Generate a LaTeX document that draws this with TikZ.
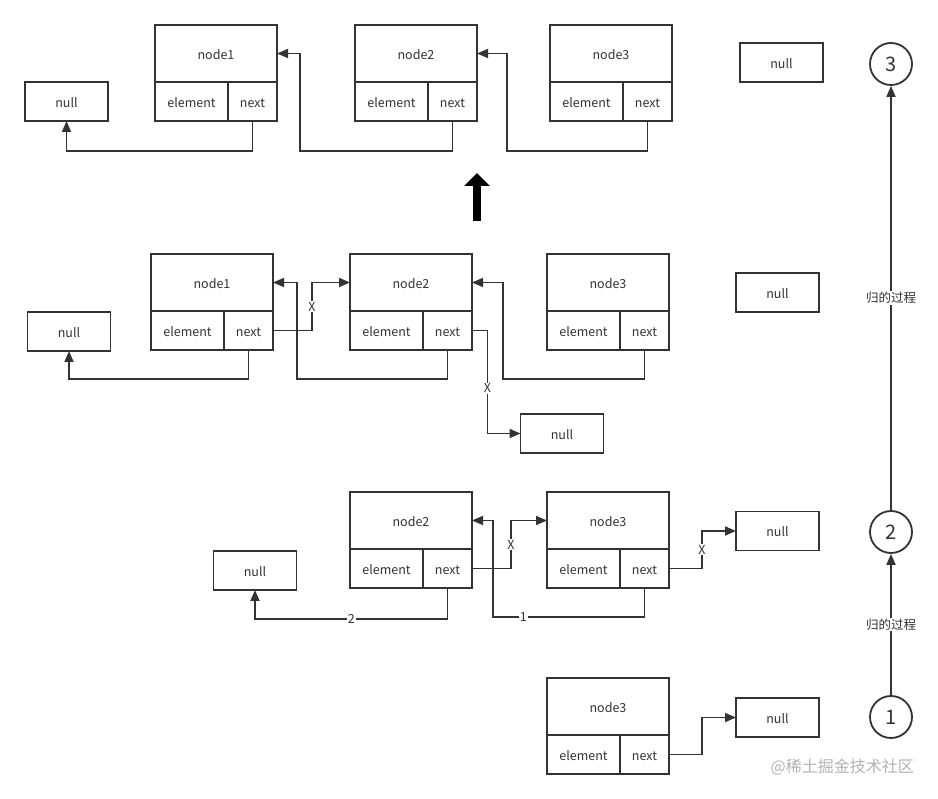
\documentclass[tikz,border=0pt]{standalone}
\usepackage{fontspec}
\setmainfont{Noto Sans CJK SC}
\usetikzlibrary{arrows.meta,positioning}
\definecolor{ln}{HTML}{333333}
\tikzset{
  headbox/.style={draw, minimum width=122pt, minimum height=57pt, outer sep=0pt, inner sep=0pt, text height=12pt, text depth=0pt},
  cellbox/.style={draw, minimum height=39pt, outer sep=0pt, inner sep=0pt, text height=12pt, text depth=0pt},
  nullbox/.style={draw, minimum width=83pt, minimum height=39pt, outer sep=0pt, text height=12pt, text depth=0pt},
  stepcirc/.style={draw, circle, minimum size=42pt, inner sep=0pt, font=\fontsize{20}{20}\selectfont},
  cut/.style={fill=white, inner sep=1pt},
  lnode/.pic={
    \node[headbox, anchor=north west] (-h) at (0,0) {#1};
    \node[cellbox, minimum width=73pt, anchor=north west] (-e) at (-h.south west) {element};
    \node[cellbox, minimum width=49pt, anchor=north west] (-n) at (-e.north east) {next};
  }
}
\begin{document}
\begin{tikzpicture}[x=1pt, y=-1pt, font=\fontsize{12.5}{14}\selectfont, line width=1.8pt, color=ln, >={Triangle[length=11pt,width=9pt]}]
\useasboundingbox (0,0) rectangle (938,799);
% row 1
\pic (r1a) at (155,25) {lnode=node1};
\pic (r1b) at (355,25) {lnode=node2};
\pic (r1c) at (550,25) {lnode=node3};
\node[nullbox] (r1l) at (66.5,101.5) {null};
\node[nullbox] (r1r) at (781.5,62.5) {null};
\draw[->] (r1a-n.south) -- ++(0,30) -| (r1l.south);
\draw[->] (r1b-n.south) -- ++(0,30) -| ([xshift=23pt]r1a-h.east) -- (r1a-h.east);
\draw[->] (r1c-n.south) -- ++(0,30) -| ([xshift=30pt]r1b-h.east) -- (r1b-h.east);
\draw[line width=8pt, black, -{Triangle[length=13pt,width=25pt]}] (477,221) -- (477,173);
% row 2
\pic (r2a) at (151,254) {lnode=node1};
\pic (r2b) at (350,254) {lnode=node2};
\pic (r2c) at (547,254) {lnode=node3};
\node[nullbox] (r2l) at (69,331.5) {null};
\node[nullbox] (r2r) at (777.5,292.5) {null};
\node[nullbox] (r2d) at (562,433.5) {null};
\draw[->] (r2a-n.south) -- ++(0,29) -| (r2l.south);
\draw[->] (r2b-n.south) -- ++(0,29) -| ([xshift=24pt]r2a-h.east) -- (r2a-h.east);
\draw[->] (r2c-n.south) -- ++(0,29) -| ([xshift=31pt]r2b-h.east) -- (r2b-h.east);
\draw[->] (r2a-n.east) -| ([xshift=-38pt]r2b-h.west) node[cut, pos=0.75] {X} -- (r2b-h.west);
\draw[->] (r2b-n.east) -| ([xshift=-33pt]r2d.west) node[cut, pos=0.78] {X} -- (r2d.west);
% row 3
\pic (r3a) at (350,492) {lnode=node2};
\pic (r3b) at (547,492) {lnode=node3};
\node[nullbox] (r3l) at (255,570.5) {null};
\node[nullbox] (r3r) at (777.5,531) {null};
\draw[->] (r3a-n.south) -- ++(0,31) -| (r3l.south) node[cut, pos=0.25] {2};
\draw[->] (r3b-n.south) -- ++(0,29) -| ([xshift=21pt]r3a-h.east) node[cut, pos=0.4] {1} -- (r3a-h.east);
\draw[->] (r3a-n.east) -| ([xshift=-36pt]r3b-h.west) node[cut, pos=0.75] {X} -- (r3b-h.west);
\draw[->] (r3b-n.east) -| ([xshift=-34pt]r3r.west) node[cut, pos=0.75] {X} -- (r3r.west);
% row 4
\pic (r4a) at (547,678) {lnode=node3};
\node[nullbox] (r4r) at (777.5,717.5) {null};
\draw[->] (r4a-n.east) -| ([xshift=-34pt]r4r.west) -- (r4r.west);
% steps
\node[stepcirc] (s3) at (891,64) {3};
\node[stepcirc] (s2) at (891,532) {2};
\node[stepcirc] (s1) at (891,717) {1};
\draw[->] (s1) -- (s2) node[cut, midway] {归的过程};
\draw[->] (s2) -- (s3) node[cut, midway] {归的过程};
\node[text=gray!60, font=\fontsize{16}{16}\selectfont, anchor=east] (wm) at (918,767) {@稀土掘金技术社区};
\end{tikzpicture}
\end{document}
